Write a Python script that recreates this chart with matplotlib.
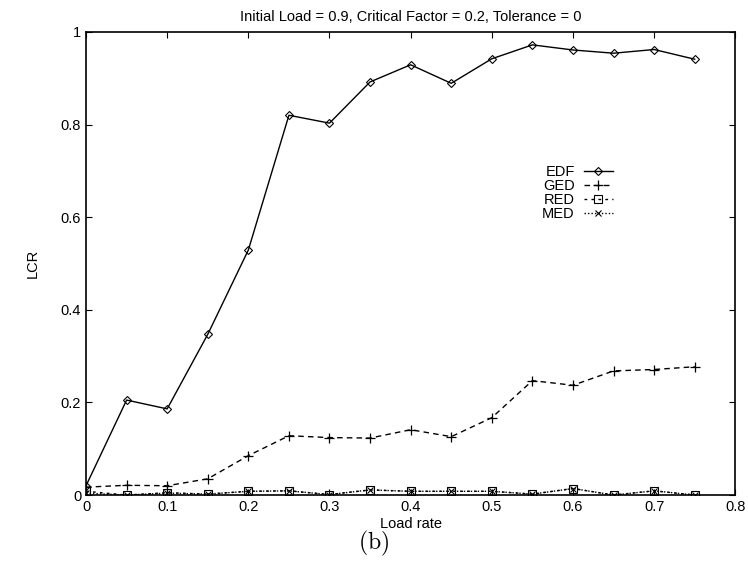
import matplotlib
matplotlib.use("Agg")
import matplotlib.pyplot as plt

plt.rcParams['font.family'] = ['Liberation Sans', 'DejaVu Sans']
plt.rcParams['mathtext.fontset'] = 'cm'

load_rate = [0, 0.05, 0.1, 0.15, 0.2, 0.25, 0.3, 0.35, 0.4, 0.45, 0.5, 0.55, 0.6, 0.65, 0.7, 0.75]
edf = [0.02, 0.205, 0.186, 0.347, 0.529, 0.82, 0.803, 0.892, 0.929, 0.889, 0.942, 0.972, 0.961, 0.954, 0.962, 0.941]
ged = [0.017, 0.021, 0.02, 0.035, 0.085, 0.128, 0.124, 0.123, 0.141, 0.126, 0.167, 0.247, 0.237, 0.268, 0.271, 0.277]
red = [0.008, 0.0, 0.005, 0.002, 0.008, 0.009, 0.001, 0.011, 0.008, 0.008, 0.008, 0.002, 0.014, 0.0, 0.009, 0.0]
med = [0.004, 0.0, 0.004, 0.002, 0.008, 0.009, 0.001, 0.011, 0.008, 0.008, 0.008, 0.002, 0.014, 0.0, 0.009, 0.0]

fig = plt.figure(figsize=(7.48, 5.76), dpi=100)
ax = fig.add_axes([0.115, 0.1406, 0.868, 0.804])

ax.plot(load_rate, edf, color='black', lw=1, ls='-', marker='D', ms=4, mfc='none', mew=0.8, label='EDF')
ax.plot(load_rate, ged, color='black', lw=1, ls=(0, (4, 3)), marker='+', ms=7, mew=0.9, label='GED')
ax.plot(load_rate, red, color='black', lw=1, ls=(0, (2, 3)), marker='s', ms=5.5, mfc='none', mew=0.8, label='RED')
ax.plot(load_rate, med, color='black', lw=1, ls=(0, (1, 1.5)), marker='x', ms=5, mew=0.8, label='MED')

ax.set_xlim(0, 0.8)
ax.set_ylim(0, 1)
ax.set_xticks([0, 0.1, 0.2, 0.3, 0.4, 0.5, 0.6, 0.7, 0.8])
ax.set_xticklabels(['0', '0.1', '0.2', '0.3', '0.4', '0.5', '0.6', '0.7', '0.8'])
ax.set_yticks([0, 0.2, 0.4, 0.6, 0.8, 1])
ax.set_yticklabels(['0', '0.2', '0.4', '0.6', '0.8', '1'])
ax.tick_params(direction='in', top=True, right=True, length=4.5, labelsize=10.5)
for s in ax.spines.values():
    s.set_linewidth(1.2)

ax.set_title('Initial Load = 0.9, Critical Factor = 0.2, Tolerance = 0', fontsize=10.5, pad=8)
ax.set_xlabel('Load rate', fontsize=10.5, labelpad=2)
ax.set_ylabel('LCR', fontsize=10.5, labelpad=15)

leg = ax.legend(loc='center', bbox_to_anchor=(0.757, 0.653), frameon=False, markerfirst=False,
                fontsize=10.5, handlelength=2.0, handletextpad=0.6, labelspacing=0.0, borderpad=0)
for t in leg.get_texts():
    t.set_ha('right')

fig.text(0.5, 0.057, r'$\mathrm{(b)}$', ha='center', va='center', fontsize=17)

fig.savefig('out.png', dpi=100)
